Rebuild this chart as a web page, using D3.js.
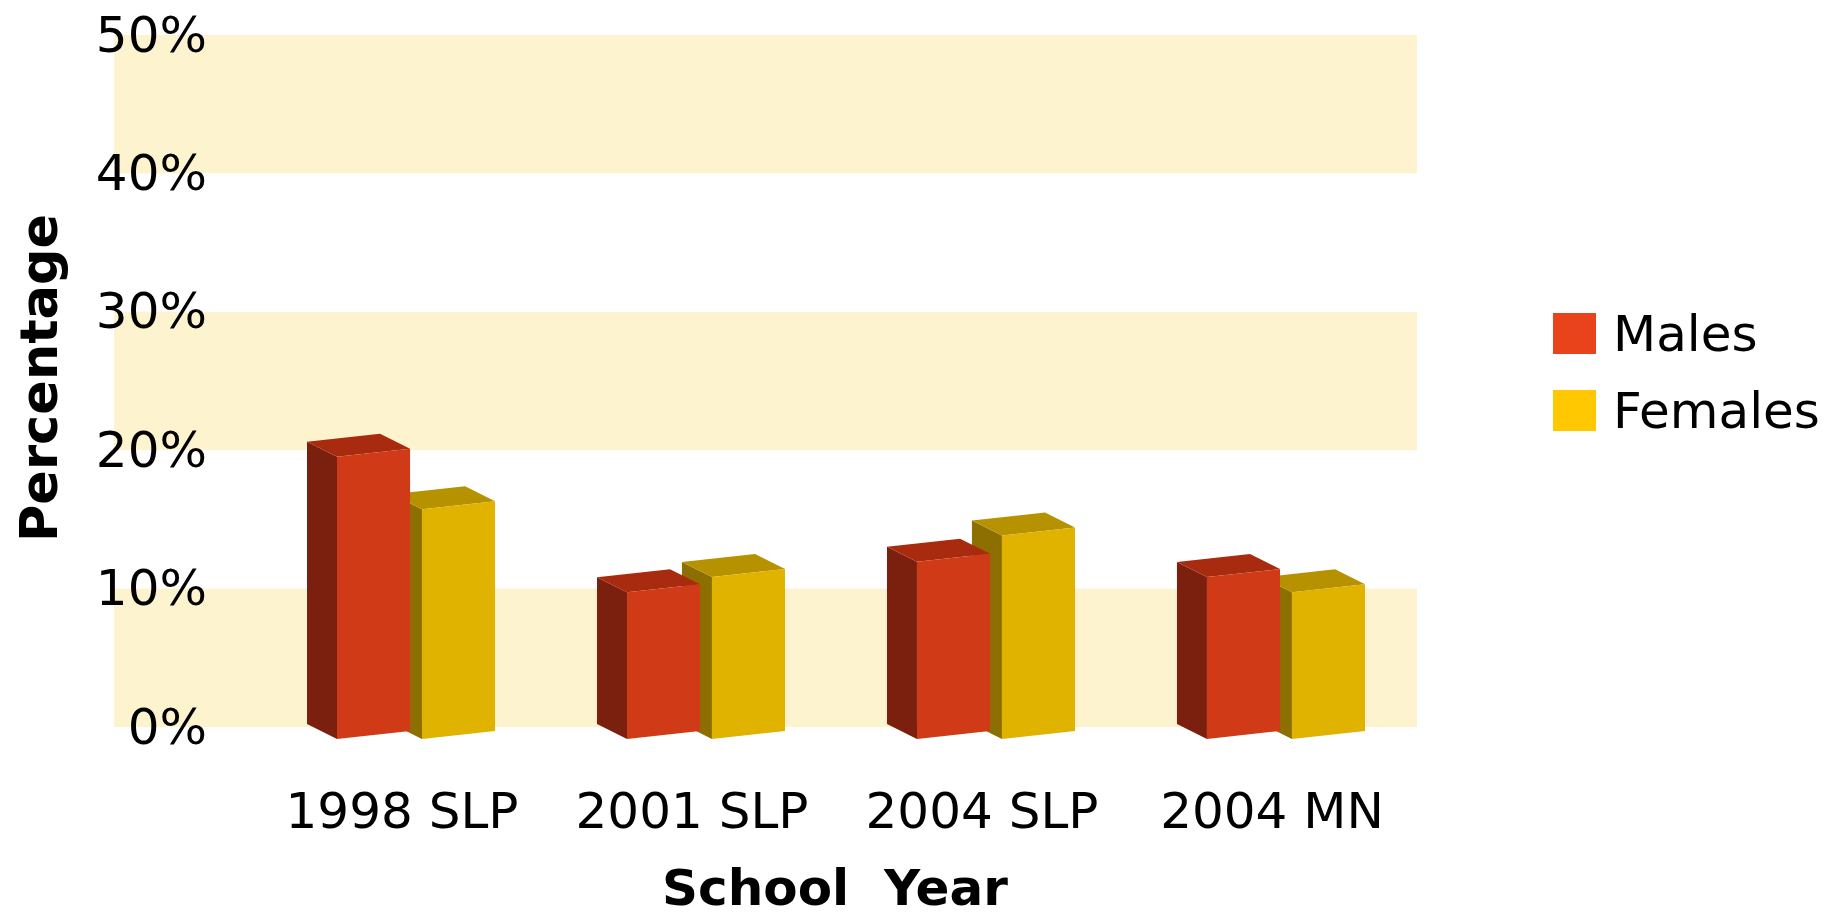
<!DOCTYPE html>
<html>
<head>
<meta charset="utf-8">
<script src="https://cdnjs.cloudflare.com/ajax/libs/d3/7.8.5/d3.min.js"></script>
<style>
  html, body { margin: 0; padding: 0; background: #fff; }
  svg text { font-family: "DejaVu Sans", Verdana, sans-serif; fill: #000; }
</style>
</head>
<body>
<svg id="chart" width="1841" height="919"></svg>
<script>
// chart data
const categories = ["1998 SLP", "2001 SLP", "2004 SLP", "2004 MN"];
const series = ["Males", "Females"];
const males = [20.4, 10.6, 12.8, 11.7];
const females = [16.6, 11.7, 14.7, 10.6];
const yTicks = [0, 10, 20, 30, 40, 50];

const svg = d3.select("#chart");

// colours: front, side, top for the 3d bars, plus legend swatch
const palette = {
  "Males":   { front: "#d03a17", side: "#7b200e", top: "#a82b10", key: "#e8431a" },
  "Females": { front: "#dfb300", side: "#8c6f00", top: "#b69100", key: "#ffc800" }
};

const y = d3.scaleLinear().domain([0, 50]).range([727, 35]);

const x0 = d3.scaleBand()
  .domain(categories)
  .range([337, 1365])
  .paddingInner(0.455);

const x1 = d3.scaleBand()
  .domain(series)
  .range([0, x0.bandwidth()])
  .paddingInner(0.14);

// back wall with alternating bands
const wall = svg.append("g").attr("class", "wall");
wall.selectAll("rect")
  .data(yTicks.slice(0, -1).filter((d, i) => i % 2 === 0))
  .enter().append("rect")
  .attr("x", 114)
  .attr("width", 1417 - 114)
  .attr("y", d => y(d + 10))
  .attr("height", d => y(d) - y(d + 10))
  .attr("fill", "#fdf3cf");

// y axis labels
const yAxis = d3.axisLeft(y)
  .tickValues(yTicks)
  .tickFormat(d => d + "%")
  .tickSize(0)
  .tickPadding(0);

svg.append("g")
  .attr("transform", "translate(207,0)")
  .call(yAxis)
  .call(g => g.select(".domain").remove())
  .call(g => g.selectAll("text")
    .attr("font-family", "DejaVu Sans, Verdana, sans-serif")
    .attr("font-size", 50)
    .attr("fill", "#000"));

// 3d bars, oblique projection
const depthX = -30, depthY = -15;
const skew = 0.11;
const floorY = y(0) + 12;

const bars = [];
categories.forEach((c, i) => {
  // right bar first so the left one overlaps it
  [["Females", females[i]], ["Males", males[i]]].forEach(([s, v]) => {
    bars.push({ cat: c, series: s, value: v });
  });
});

const barG = svg.append("g").attr("class", "bars");

const pts = arr => arr.map(p => p.join(",")).join(" ");

const bar = barG.selectAll("g.bar")
  .data(bars)
  .enter().append("g")
  .attr("class", "bar");

function corners(d) {
  const xl = x0(d.cat) + x1(d.series);
  const w = x1.bandwidth();
  const h = y(0) - y(d.value);
  const fbl = [xl, floorY];
  const fbr = [xl + w, floorY - w * skew];
  const ftl = [xl, floorY - h];
  const ftr = [xl + w, floorY - h - w * skew];
  const back = p => [p[0] + depthX, p[1] + depthY];
  return { fbl, fbr, ftl, ftr, bbl: back(fbl), btl: back(ftl), btr: back(ftr) };
}

bar.append("polygon")
  .attr("points", d => { const k = corners(d); return pts([k.ftl, k.fbl, k.bbl, k.btl]); })
  .attr("fill", d => palette[d.series].side);

bar.append("polygon")
  .attr("points", d => { const k = corners(d); return pts([k.ftl, k.ftr, k.btr, k.btl]); })
  .attr("fill", d => palette[d.series].top);

bar.append("polygon")
  .attr("points", d => { const k = corners(d); return pts([k.ftl, k.ftr, k.fbr, k.fbl]); })
  .attr("fill", d => palette[d.series].front);

// category labels
svg.append("g").selectAll("text")
  .data(categories)
  .enter().append("text")
  .attr("x", d => x0(d) + x0.bandwidth() / 2 - 14)
  .attr("y", 828)
  .attr("text-anchor", "middle")
  .attr("font-size", 50)
  .text(d => d);

// axis titles
svg.append("text")
  .attr("x", 835)
  .attr("y", 905)
  .attr("text-anchor", "middle")
  .attr("font-size", 50)
  .attr("font-weight", "bold")
  .style("white-space", "pre")
  .text("School  Year");

svg.append("text")
  .attr("transform", "translate(57,378) rotate(-90)")
  .attr("text-anchor", "middle")
  .attr("font-size", 51)
  .attr("font-weight", "bold")
  .text("Percentage");

// legend
const legend = svg.append("g").attr("class", "legend")
  .selectAll("g")
  .data(series)
  .enter().append("g")
  .attr("transform", (d, i) => "translate(1553," + (313 + i * 77) + ")");

legend.append("rect")
  .attr("width", 43)
  .attr("height", 41)
  .attr("fill", d => palette[d].key);

legend.append("text")
  .attr("x", 60)
  .attr("y", 38)
  .attr("font-size", 50)
  .text(d => d);
</script>
</body>
</html>
